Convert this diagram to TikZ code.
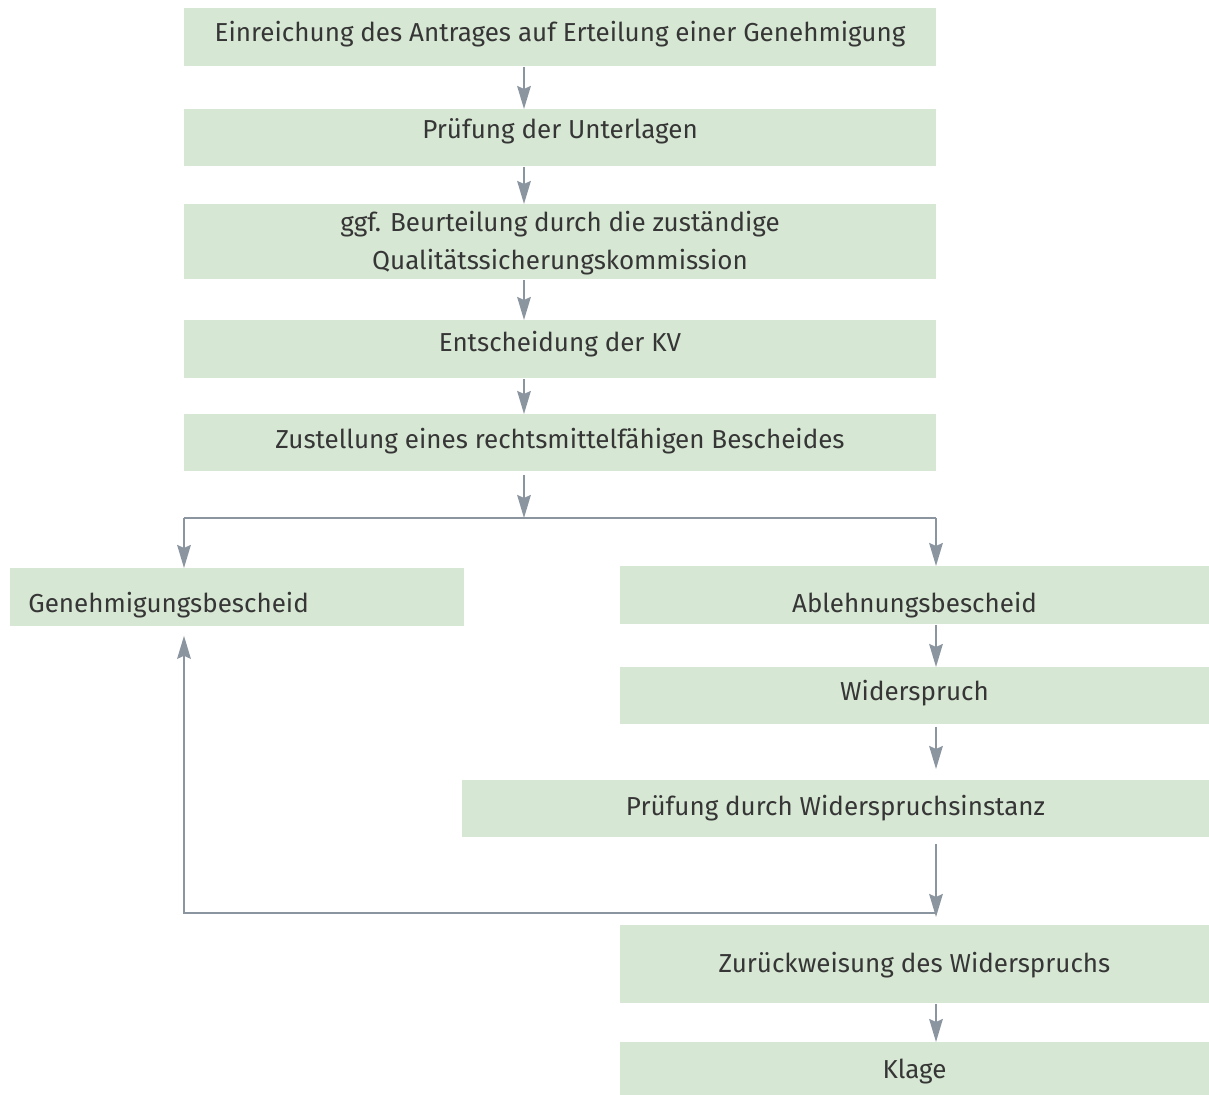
\documentclass[tikz,border=0pt]{standalone}
\usepackage{fontspec}
\setmainfont{Fira Sans}
\usetikzlibrary{arrows.meta}
\definecolor{boxgreen}{HTML}{D6E7D3}
\definecolor{arrowgray}{HTML}{8A95A0}
\definecolor{txt}{HTML}{363636}
\begin{document}
\begin{tikzpicture}[x=0.5pt,y=-0.5pt,
  box/.style={fill=boxgreen, draw=none, inner sep=0pt, anchor=north west},
  lbl/.style={anchor=base, text=txt, font=\fontsize{13}{15}\selectfont, inner sep=0pt},
  conn/.style={draw=arrowgray, line width=1pt, -{Stealth[length=11.5pt,width=6.8pt,inset=1.5pt]}},
  plainline/.style={draw=arrowgray, line width=1pt}]
\useasboundingbox (0,0) rectangle (1209,1095);
% boxes
\node[box, minimum width=376pt, minimum height=29pt] (b1) at (184,8) {};
\node[box, minimum width=376pt, minimum height=28.5pt] (b2) at (184,109) {};
\node[box, minimum width=376pt, minimum height=37.5pt] (b3) at (184,204) {};
\node[box, minimum width=376pt, minimum height=29pt] (b4) at (184,320) {};
\node[box, minimum width=376pt, minimum height=28.5pt] (b5) at (184,414) {};
\node[box, minimum width=227pt, minimum height=29pt] (g) at (10,568) {};
\node[box, minimum width=294.5pt, minimum height=29pt] (a) at (620,566) {};
\node[box, minimum width=294.5pt, minimum height=28.5pt] (w) at (620,667) {};
\node[box, minimum width=373.5pt, minimum height=28.5pt] (p) at (462,780) {};
\node[box, minimum width=294.5pt, minimum height=39pt] (z) at (620,925) {};
\node[box, minimum width=294.5pt, minimum height=26.5pt] (k) at (620,1042) {};
% labels
\node[lbl] (t1) at (560,42) {Einreichung des Antrages auf Erteilung einer Genehmigung};
\node[lbl] (t2) at (560,139) {Prüfung der Unterlagen};
\node[lbl] (t3a) at (560,232) {ggf. Beurteilung durch die zuständige};
\node[lbl] (t3b) at (560,270) {Qualitätssicherungskommission};
\node[lbl] (t4) at (560,352) {Entscheidung der KV};
\node[lbl] (t5) at (560,449) {Zustellung eines rechtsmittelfähigen Bescheides};
\node[lbl, anchor=base west] (tg) at (28,612) {Genehmigungsbescheid};
\node[lbl] (ta) at (914.5,612) {Ablehnungsbescheid};
\node[lbl] (tw) at (914.5,700) {Widerspruch};
\node[lbl] (tp) at (835.5,815) {Prüfung durch Widerspruchsinstanz};
\node[lbl] (tz) at (914.5,972) {Zurückweisung des Widerspruchs};
\node[lbl] (tk) at (914.5,1078) {Klage};
% helper coordinates
\coordinate (ax) at (524,0);
\coordinate (rx) at (936,0);
\coordinate (split) at (524,518);
\coordinate (sl) at (184,518);
\coordinate (sr) at (936,518);
\coordinate (jt) at (936,917);
\coordinate (jr) at (936,913);
\coordinate (jl) at (184,913);
% connectors
\draw[conn] (b1.south -| ax) -- (b2.north -| ax);
\draw[conn] (b2.south -| ax) -- (b3.north -| ax);
\draw[conn] (b3.south -| ax) -- (b4.north -| ax);
\draw[conn] (b4.south -| ax) -- (b5.north -| ax);
\draw[conn, shorten <=1.5pt] (b5.south -| ax) -- (split);
\draw[plainline] (sl) -- (sr);
\draw[conn] (sl) -- (g.north -| sl);
\draw[conn] (sr) -- (a.north -| sr);
\draw[conn] (a.south -| rx) -- (w.north -| rx);
\draw[conn, shorten <=1pt, shorten >=5.5pt] (w.south -| rx) -- (p.north -| rx);
\draw[conn, shorten <=3pt] (p.south -| rx) -- (jt);
\draw[conn, shorten >=4.5pt] (jr) -- (jl) -- (g.south -| jl);
\draw[conn] (z.south -| rx) -- (k.north -| rx);
\end{tikzpicture}
\end{document}
